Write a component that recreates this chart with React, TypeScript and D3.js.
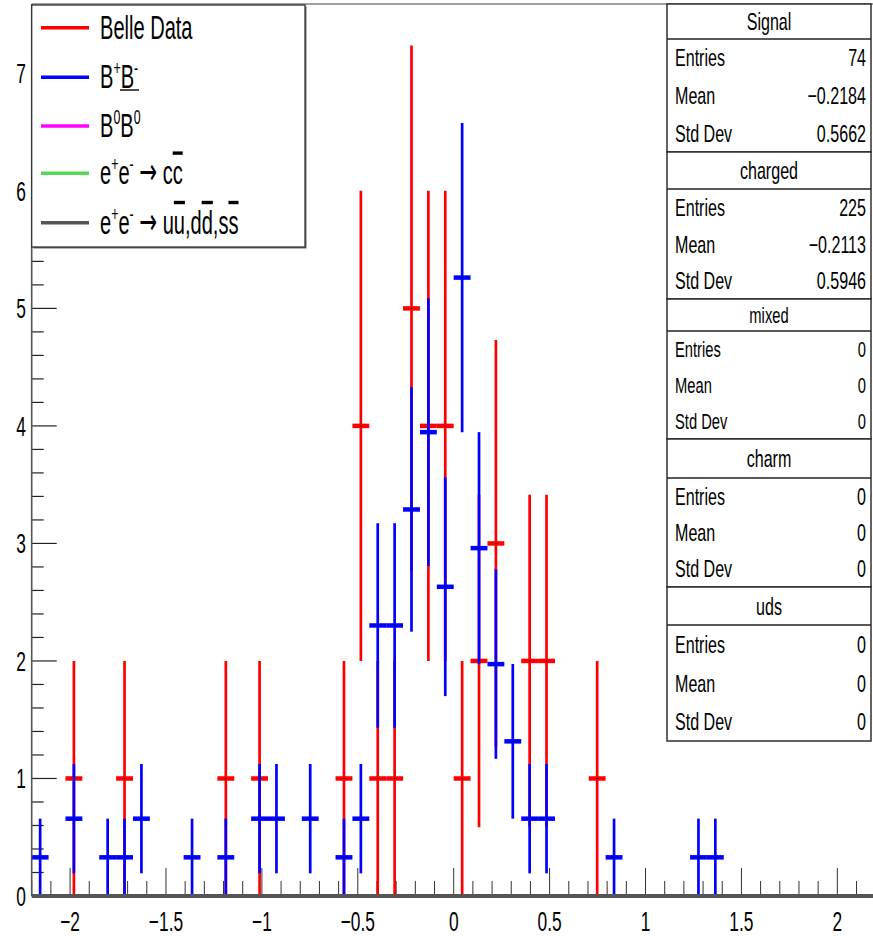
import React from 'react';
import * as d3 from 'd3';

// ---------- data ----------
const xDomain: [number, number] = [-2.2, 2.2];
const yDomain: [number, number] = [0, 7.59];
const binWidth = 0.088;

const xTickValues = [-2, -1.5, -1, -0.5, 0, 0.5, 1, 1.5, 2];
const xTickLabels = ['\u22122', '\u22121.5', '\u22121', '\u22120.5', '0', '0.5', '1', '1.5', '2'];
const yTickValues = [0, 1, 2, 3, 4, 5, 6, 7];
const yTickLabels = ['0', '1', '2', '3', '4', '5', '6', '7'];

// Belle Data (Signal)
const signalX = [-1.98, -1.716, -1.188, -1.012, -0.572, -0.484, -0.396, -0.308, -0.22, -0.132, -0.044, 0.044, 0.132, 0.22, 0.396, 0.484, 0.748];
const signalY = [1, 1, 1, 1, 1, 4, 1, 1, 5, 4, 4, 1, 2, 3, 2, 2, 1];
const signalErr = [1, 1, 1, 1, 1, 2, 1, 1, 2.236, 2, 2, 1, 1.414, 1.732, 1.414, 1.414, 1];

// B+B- (charged), scaled
const chargedX = [-2.156, -1.98, -1.804, -1.716, -1.628, -1.364, -1.188, -1.012, -0.924, -0.748, -0.572, -0.484, -0.396, -0.308, -0.22, -0.132, -0.044, 0.044, 0.132, 0.22, 0.308, 0.396, 0.484, 0.836, 1.276, 1.364];
const chargedY = [0.329, 0.658, 0.329, 0.329, 0.658, 0.329, 0.329, 0.658, 0.658, 0.658, 0.329, 0.658, 2.302, 2.302, 3.289, 3.947, 2.631, 5.262, 2.96, 1.973, 1.316, 0.658, 0.658, 0.329, 0.329, 0.329];
const chargedErr = [0.329, 0.465, 0.329, 0.329, 0.465, 0.329, 0.329, 0.465, 0.465, 0.465, 0.329, 0.465, 0.87, 0.87, 1.04, 1.139, 0.93, 1.316, 0.987, 0.806, 0.658, 0.465, 0.465, 0.329, 0.329, 0.329];

const legendKeys = ['data', 'charged', 'mixed', 'charm', 'uds'];
const legendColors = ['#ff0000', '#0000ff', '#ff00ff', '#55d655', '#555555'];

const statsTitles = ['Signal', 'charged', 'mixed', 'charm', 'uds'];
const statsEntries = ['74', '225', '0', '0', '0'];
const statsMeans = ['\u22120.2184', '\u22120.2113', '0', '0', '0'];
const statsStdDevs = ['0.5662', '0.5946', '0', '0', '0'];
const statsLabels = ['Entries', 'Mean', 'Std Dev'];

// ---------- layout ----------
const W = 873;
const H = 936;
const FONT = '"Liberation Sans", Arial, Helvetica, sans-serif';
const plotLeft = 31.7;
const plotRight = 875.7;
const plotTop = 4;
const plotBottom = 896;

const statBoxes = [
  { top: 4, sep: 39, bottom: 152, fs: 24 },
  { top: 152, sep: 189, bottom: 299, fs: 24 },
  { top: 299, sep: 331, bottom: 439, fs: 22 },
  { top: 439, sep: 478, bottom: 587, fs: 24 },
  { top: 587, sep: 625, bottom: 741, fs: 24 },
];
const statLeft = 667;
const statRight = 871;

const legendBox = { x0: 31.7, y0: 5, x1: 305, y1: 247 };
const legendRowY = [27.7, 77.3, 126, 173.3, 222.7];

function SText(props: any) {
  const { x, y, anchor = 'start', size, sx = 0.62, children, fill = '#000' } = props;
  return (
    <text
      transform={`translate(${x},${y}) scale(${sx},1)`}
      textAnchor={anchor}
      fontSize={size}
      fontFamily={FONT}
      fill={fill}
    >
      {children}
    </text>
  );
}

const SUP = 21;
const SUPDY = 13;
const OL: any = { textDecoration: 'overline' };
const ARROW_FONT = '"DejaVu Sans", sans-serif';

function Arrow() {
  return (
    <>
      <tspan dy={SUPDY}>{' '}</tspan>
      <tspan fontFamily={ARROW_FONT} fontSize={36}>{'\u2192'}</tspan>
      <tspan>{' '}</tspan>
    </>
  );
}

function legendContent(key: string) {
  switch (key) {
    case 'data':
      return <tspan>Belle Data</tspan>;
    case 'charged':
      return (
        <>
          <tspan>B</tspan>
          <tspan fontSize={SUP} dy={-SUPDY}>+</tspan>
          <tspan dy={SUPDY}>B</tspan>
          <tspan fontSize={SUP} dy={-SUPDY}>-</tspan>
        </>
      );
    case 'mixed':
      return (
        <>
          <tspan>B</tspan>
          <tspan fontSize={SUP} dy={-SUPDY}>0</tspan>
          <tspan dy={SUPDY}>B</tspan>
          <tspan fontSize={SUP} dy={-SUPDY}>0</tspan>
        </>
      );
    case 'charm':
      return (
        <>
          <tspan>e</tspan>
          <tspan fontSize={SUP} dy={-SUPDY}>+</tspan>
          <tspan dy={SUPDY}>e</tspan>
          <tspan fontSize={SUP} dy={-SUPDY}>-</tspan>
          <Arrow />
          <tspan>c</tspan>
          <tspan style={OL}>c</tspan>
        </>
      );
    default:
      return (
        <>
          <tspan>e</tspan>
          <tspan fontSize={SUP} dy={-SUPDY}>+</tspan>
          <tspan dy={SUPDY}>e</tspan>
          <tspan fontSize={SUP} dy={-SUPDY}>-</tspan>
          <Arrow />
          <tspan>u</tspan>
          <tspan style={OL}>u</tspan>
          <tspan>,d</tspan>
          <tspan style={OL}>d</tspan>
          <tspan>,s</tspan>
          <tspan style={OL}>s</tspan>
        </>
      );
  }
}

export default function App() {
  const x = d3.scaleLinear().domain(xDomain).range([plotLeft, plotRight]);
  const y = d3.scaleLinear().domain(yDomain).range([plotBottom, plotTop]);

  const xMinor = d3.range(-22, 23).map((i) => ({ v: i / 10, major: i % 5 === 0 }));
  const yMinor = d3.range(0, 38).map((i) => ({ v: i / 5, major: i % 5 === 0 }));

  const series = [
    { xs: signalX, ys: signalY, es: signalErr, color: '#ff0000' },
    { xs: chargedX, ys: chargedY, es: chargedErr, color: '#0000ff' },
  ];

  return (
    <div style={{ position: 'absolute', left: 0, top: 0 }}>
      <svg width={W} height={H} style={{ display: 'block', background: '#fff' }}>
        <rect x={0} y={0} width={W} height={H} fill="#fff" />
        {/* x ticks */}
        {xMinor.map((t, i) => (
          <line
            key={'xt' + i}
            x1={x(t.v)}
            x2={x(t.v)}
            y1={plotBottom}
            y2={plotBottom - (t.major ? 28 : 15)}
            stroke="#333"
            strokeWidth={1}
          />
        ))}
        {/* y ticks */}
        {yMinor.map((t, i) => (
          <line
            key={'yt' + i}
            x1={plotLeft}
            x2={plotLeft + (t.major ? 25 : 12)}
            y1={y(t.v)}
            y2={y(t.v)}
            stroke="#222"
            strokeWidth={1.2}
          />
        ))}
        {/* frame top */}
        <line x1={plotLeft} x2={W} y1={plotTop} y2={plotTop} stroke="#444" strokeWidth={1.2} />
        {/* data */}
        {series.map((s, si) => (
          <g key={'s' + si}>
            {s.xs.map((cx, i) => {
              const v = s.ys[i];
              const e = s.es[i];
              return (
                <g key={i}>
                  <line
                    x1={x(cx)}
                    x2={x(cx)}
                    y1={y(Math.max(0, v - e))}
                    y2={y(v + e)}
                    stroke={s.color}
                    strokeWidth={2.7}
                  />
                  <line
                    x1={x(cx - binWidth / 2)}
                    x2={x(cx + binWidth / 2)}
                    y1={y(v)}
                    y2={y(v)}
                    stroke={s.color}
                    strokeWidth={4.5}
                  />
                  <rect x={x(cx) - 0.6} y={y(v) - 0.6} width={1.2} height={1.2} fill="#000" />
                </g>
              );
            })}
          </g>
        ))}
        {/* axes lines */}
        <line x1={plotLeft} x2={plotLeft} y1={plotTop} y2={plotBottom} stroke="#555" strokeWidth={1.6} />
        <line x1={plotLeft} x2={W} y1={plotBottom} y2={plotBottom} stroke="#555" strokeWidth={4} />
        {/* x labels */}
        {xTickValues.map((v, i) => (
          <SText key={'xl' + i} x={x(v)} y={931} anchor="middle" size={28} sx={0.62}>
            {xTickLabels[i]}
          </SText>
        ))}
        {/* y labels */}
        {yTickValues.map((v, i) => (
          <SText key={'yl' + i} x={26} y={y(v) + 10} anchor="end" size={28} sx={0.62}>
            {yTickLabels[i]}
          </SText>
        ))}
        {/* legend */}
        <rect
          x={legendBox.x0 + 1.5}
          y={legendBox.y0 + 1.5}
          width={legendBox.x1 - legendBox.x0}
          height={legendBox.y1 - legendBox.y0}
          fill="#666"
        />
        <rect
          x={legendBox.x0}
          y={legendBox.y0}
          width={legendBox.x1 - legendBox.x0}
          height={legendBox.y1 - legendBox.y0}
          fill="#fff"
          stroke="#333"
          strokeWidth={1.3}
        />
        {legendKeys.map((k, i) => (
          <g key={'lg' + k}>
            <line x1={41} x2={89} y1={legendRowY[i]} y2={legendRowY[i]} stroke={legendColors[i]} strokeWidth={3.6} />
            <SText x={100} y={legendRowY[i] + 11} size={34} sx={0.59}>
              {legendContent(k)}
            </SText>
          </g>
        ))}
        {/* misplaced anti-B bar (as rendered in the original) */}
        <line x1={120} x2={139} y1={90} y2={90} stroke="#000" strokeWidth={1.4} />
        {/* stats boxes */}
        {statBoxes.map((b, i) => {
          const rowH = (b.bottom - b.sep) / 3;
          const vals = [statsEntries[i], statsMeans[i], statsStdDevs[i]];
          const half = b.fs * 0.36;
          return (
            <g key={'sb' + i}>
              <rect x={statLeft} y={b.top} width={statRight - statLeft} height={b.bottom - b.top} fill="#fff" stroke="#222" strokeWidth={1.4} />
              <line x1={statLeft} x2={statRight} y1={b.sep} y2={b.sep} stroke="#222" strokeWidth={1.4} />
              <SText x={(statLeft + statRight) / 2} y={(b.top + b.sep) / 2 + half} anchor="middle" size={b.fs} sx={0.67}>
                {statsTitles[i]}
              </SText>
              {statsLabels.map((lab, j) => {
                const cy = b.sep + rowH * (j + 0.5) + half;
                return (
                  <g key={j}>
                    <SText x={675} y={cy} size={b.fs} sx={0.67}>
                      {lab}
                    </SText>
                    <SText x={866} y={cy} anchor="end" size={b.fs} sx={0.67}>
                      {vals[j]}
                    </SText>
                  </g>
                );
              })}
            </g>
          );
        })}
      </svg>
    </div>
  );
}
